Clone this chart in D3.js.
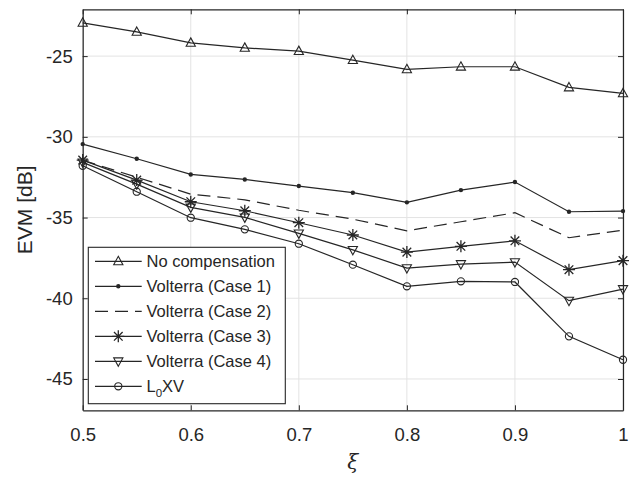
<!DOCTYPE html>
<html>
<head>
<meta charset="utf-8">
<script src="https://cdn.jsdelivr.net/npm/d3@7"></script>
<style>
  html, body { margin: 0; padding: 0; background: #fff; }
  svg text { font-family: "Liberation Sans", Arial, Helvetica, sans-serif; fill: #262626; }
</style>
</head>
<body>
<svg id="chart" width="631" height="478"></svg>
<script>
// EVM versus ξ for several compensation schemes
const xi = [0.5, 0.55, 0.6, 0.65, 0.7, 0.75, 0.8, 0.85, 0.9, 0.95, 1.0];

const noComp   = [-22.94, -23.50, -24.18, -24.49, -24.69, -25.25, -25.82, -25.66, -25.66, -26.94, -27.31];
const case1    = [-30.45, -31.36, -32.33, -32.64, -33.05, -33.46, -34.06, -33.30, -32.80, -34.64, -34.60];
const case2    = [-31.45, -32.50, -33.55, -33.90, -34.55, -35.10, -35.82, -35.26, -34.70, -36.25, -35.78];
const case3    = [-31.44, -32.68, -34.02, -34.58, -35.32, -36.08, -37.14, -36.78, -36.44, -38.23, -37.67];
const case4    = [-31.58, -32.93, -34.37, -34.99, -35.98, -37.00, -38.13, -37.88, -37.76, -40.15, -39.43];
const l0xv     = [-31.79, -33.40, -35.01, -35.73, -36.62, -37.92, -39.26, -38.95, -38.99, -42.36, -43.81];

const xTicks = [0.5, 0.6, 0.7, 0.8, 0.9, 1];
const yTicks = [-45, -40, -35, -30, -25];

const seriesNames = ["No compensation", "Volterra (Case 1)", "Volterra (Case 2)",
                     "Volterra (Case 3)", "Volterra (Case 4)", "L0XV"];
const seriesValues = [noComp, case1, case2, case3, case4, l0xv];
const seriesMarkers = ["triangleUp", "dot", "none", "asterisk", "triangleDown", "circle"];
const seriesDashed = [false, false, true, false, false, false];

const ink = "#262626";
const plotL = 82.7, plotR = 623, plotT = 9.3, plotB = 410.3;

const svg = d3.select("#chart");
const x = d3.scaleLinear().domain([0.5, 1]).range([plotL, plotR]);
const y = d3.scaleLinear().domain([-46.94, -22.1]).range([plotB, plotT]);

// grid
const grid = svg.append("g");
grid.selectAll("line.gx").data(xTicks).join("line").attr("class", "gx")
  .attr("x1", d => x(d)).attr("x2", d => x(d)).attr("y1", plotT).attr("y2", plotB)
  .attr("stroke", "#e3e3e3").attr("stroke-width", 1);
grid.selectAll("line.gy").data(yTicks).join("line").attr("class", "gy")
  .attr("y1", d => y(d)).attr("y2", d => y(d)).attr("x1", plotL).attr("x2", plotR)
  .attr("stroke", "#e3e3e3").attr("stroke-width", 1);

// axes with inward ticks
const fmtX = d => d === 1 ? "1" : d3.format(".1f")(d);
const axB = svg.append("g").attr("transform", `translate(0,${plotB})`)
  .call(d3.axisBottom(x).tickValues(xTicks).tickFormat(fmtX).tickSizeInner(-5).tickSizeOuter(0).tickPadding(18));
const axT = svg.append("g").attr("transform", `translate(0,${plotT})`)
  .call(d3.axisTop(x).tickValues(xTicks).tickFormat("").tickSizeInner(-5).tickSizeOuter(0));
const axL = svg.append("g").attr("transform", `translate(${plotL},0)`)
  .call(d3.axisLeft(y).tickValues(yTicks).tickFormat(d3.format("d")).tickSizeInner(-5).tickSizeOuter(0).tickPadding(10));
const axR = svg.append("g").attr("transform", `translate(${plotR},0)`)
  .call(d3.axisRight(y).tickValues(yTicks).tickFormat("").tickSizeInner(-5).tickSizeOuter(0));
[axB, axT, axL, axR].forEach(a => {
  a.select(".domain").attr("stroke", ink).attr("stroke-width", 1.2);
  a.selectAll(".tick line").attr("stroke", ink).attr("stroke-width", 1);
  a.selectAll(".tick text").attr("fill", ink).style("font-size", "18.5px")
    .style("font-family", '"Liberation Sans", Arial, sans-serif');
});
axL.selectAll(".tick text").text(d => "-" + Math.abs(d));

// markers
function drawMarker(g, type, cx, cy) {
  const apply = sel => sel.attr("stroke", ink).attr("stroke-width", 1.1).attr("fill", "none");
  if (type === "triangleUp") {
    apply(g.append("path")).attr("d", `M${cx},${cy - 5}L${cx + 4.6},${cy + 3.4}L${cx - 4.6},${cy + 3.4}Z`);
  } else if (type === "triangleDown") {
    apply(g.append("path")).attr("d", `M${cx},${cy + 5}L${cx + 4.6},${cy - 3.4}L${cx - 4.6},${cy - 3.4}Z`);
  } else if (type === "circle") {
    apply(g.append("circle")).attr("cx", cx).attr("cy", cy).attr("r", 3.6);
  } else if (type === "dot") {
    g.append("circle").attr("cx", cx).attr("cy", cy).attr("r", 2.2).attr("fill", ink);
  } else if (type === "asterisk") {
    const r = 6, q = r * 0.72;
    const p = [
      `M${cx - r},${cy}L${cx + r},${cy}`,
      `M${cx},${cy - r}L${cx},${cy + r}`,
      `M${cx - q},${cy - q}L${cx + q},${cy + q}`,
      `M${cx - q},${cy + q}L${cx + q},${cy - q}`
    ];
    g.append("path").attr("d", p.join("")).attr("stroke", ink).attr("stroke-width", 1.3).attr("fill", "none");
  }
}

const line = d3.line().x((d, i) => x(xi[i])).y(d => y(d));
const plot = svg.append("g");
seriesValues.forEach((vals, s) => {
  plot.append("path").datum(vals).attr("d", line)
    .attr("fill", "none").attr("stroke", ink).attr("stroke-width", 1.2)
    .attr("stroke-dasharray", seriesDashed[s] ? "13,7" : null);
  const mg = plot.append("g");
  vals.forEach((v, i) => drawMarker(mg, seriesMarkers[s], x(xi[i]), y(v)));
});

// legend
const lg = svg.append("g");
const lx0 = 88.3, ly0 = 247.3, lw = 197, lh = 156.4;
lg.append("rect").attr("x", lx0).attr("y", ly0).attr("width", lw).attr("height", lh)
  .attr("fill", "#fff").attr("stroke", ink).attr("stroke-width", 1.1);
seriesNames.forEach((name, s) => {
  const cy = 261.3 + s * 25;
  lg.append("line").attr("x1", 95).attr("x2", 141.7).attr("y1", cy).attr("y2", cy)
    .attr("stroke", ink).attr("stroke-width", 1.2)
    .attr("stroke-dasharray", seriesDashed[s] ? "13,7" : null);
  drawMarker(lg, seriesMarkers[s], 118.3, cy);
  const t = lg.append("text").attr("x", 146.5).attr("y", cy + 6).style("font-size", "16.5px");
  if (name === "L0XV") {
    t.append("tspan").text("L");
    t.append("tspan").text("0").attr("dy", 5).style("font-size", "11.5px");
    t.append("tspan").text("XV").attr("dy", -5);
  } else {
    t.text(name);
  }
});

// axis titles
svg.append("text").attr("transform", `translate(31.5,${(plotT + plotB) / 2}) rotate(-90)`)
  .attr("text-anchor", "middle").style("font-size", "21px").text("EVM [dB]");
svg.append("text").attr("x", (plotL + plotR) / 2).attr("y", 469)
  .attr("text-anchor", "middle").style("font-size", "20px").style("font-style", "italic")
  .style("font-family", '"DejaVu Serif", "Liberation Serif", serif').text("ξ");
</script>
</body>
</html>
